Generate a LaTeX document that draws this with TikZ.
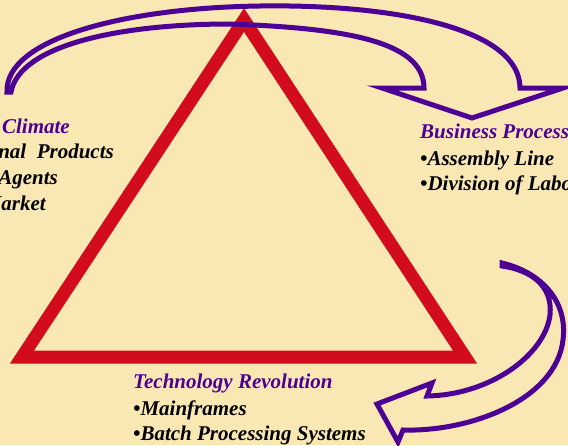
\documentclass[tikz,border=0pt]{standalone}
\usepackage{fontspec}
\setmainfont{Liberation Serif}
\definecolor{bgcream}{RGB}{250,232,180}
\definecolor{trired}{RGB}{210,12,28}
\definecolor{arrowpurple}{RGB}{76,0,148}
\tikzset{
  label text/.style={inner sep=0pt, font=\fontsize{21}{26}\selectfont\bfseries\itshape},
  heading/.style={label text, text=arrowpurple},
  item/.style={label text, text=black},
  bend arrow/.style={draw=arrowpurple, line width=5pt, line join=miter}
}

\begin{document}
\begin{tikzpicture}[x=1pt,y=-1pt,line cap=butt]
        \useasboundingbox (0,0) rectangle (568,445);
        \clip (0,0) rectangle (568,445);
        \fill[bgcream] (0,0) rectangle (568,445);

        \coordinate (apex) at (244,20);
        \coordinate (leftcorner) at (22,357);
        \coordinate (rightcorner) at (465,357);
        \draw[trired, line width=13pt, line join=miter] (apex) -- (leftcorner) -- (rightcorner) -- cycle;

        \draw[bend arrow] (7,92) .. controls (5,40) and (120,8) .. (260,6)
            .. controls (400,4) and (520,30) .. (520,88)
            -- (563,88) -- (472,118) -- (382,88) -- (424,88)
            .. controls (424,40) and (340,28) .. (230,24)
            .. controls (120,24) and (20,45) .. (11,92) -- cycle;

        \draw[bend arrow] (502,263) .. controls (540,272) and (568,300) .. (563,340)
            .. controls (556,400) and (470,432) .. (403,430)
            -- (398,442) -- (377,404) -- (432,383) -- (427,396)
            .. controls (490,395) and (545,355) .. (550,315)
            .. controls (553,285) and (530,270) .. (502,266) -- cycle;

        \node[heading, anchor=base east] (climate) at (70,133) {Climate};
        \node[item, anchor=base east] (products) at (114,158) {nal\ \ Products};
        \node[item, anchor=base east] (agents) at (58,184) {Agents};
        \node[item, anchor=base east] (market) at (46,210) {Market};

        \node[heading, anchor=base west] (bizhead) at (420,138) {Business Process};
        \node[item, anchor=base west] (assembly) at (420,165) {•Assembly Line};
        \node[item, anchor=base west] (division) at (420,190) {•Division of Labor};

        \node[heading, anchor=base west] (techhead) at (133,388) {Technology Revolution};
        \node[item, anchor=base west] (mainframes) at (133,415) {•Mainframes};
        \node[item, anchor=base west] (batch) at (133,440) {•Batch Processing Systems};
    \end{tikzpicture}
\end{document}
